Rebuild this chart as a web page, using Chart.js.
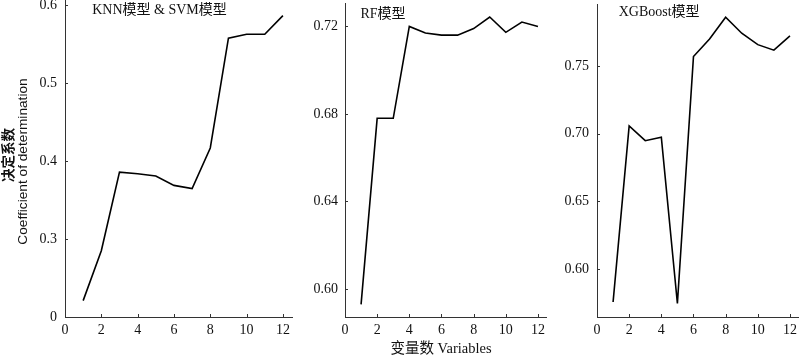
<!DOCTYPE html>
<html>
<head>
<meta charset="utf-8">
<script src="https://cdn.jsdelivr.net/npm/chart.js@4/dist/chart.umd.min.js"></script>
<style>
html,body{margin:0;padding:0;background:#fff;}
#wrap{position:relative;width:800px;height:358px;overflow:hidden;background:#fff;}
canvas{position:absolute;top:0;}
</style>
</head>
<body>
<div id="wrap">
<canvas id="c1" width="300" height="358" style="left:0px"></canvas>
<canvas id="c2" width="250" height="358" style="left:300px"></canvas>
<canvas id="c3" width="250" height="358" style="left:550px"></canvas>
</div>
<script>
// ---- data ----
const variables = [1,2,3,4,5,6,7,8,9,10,11,12];
const knnSvm = [0.221,0.285,0.386,0.384,0.381,0.369,0.365,0.417,0.558,0.563,0.563,0.587];
const rf     = [0.593,0.678,0.678,0.720,0.717,0.716,0.716,0.719,0.7243,0.7173,0.722,0.720];
const xgb    = [0.5757,0.7057,0.6948,0.6973,0.5746,0.7569,0.7699,0.7859,0.7741,0.7657,0.7616,0.7721];

const xTicks = [0,2,4,6,8,10,12];
const yTicks1 = [0.2,0.3,0.4,0.5,0.6];
const yLabels1 = ['0','0.3','0.4','0.5','0.6'];
const yTicks2 = [0.60,0.64,0.68,0.72];
const yLabels2 = ['0.60','0.64','0.68','0.72'];
const yTicks3 = [0.60,0.65,0.70,0.75];
const yLabels3 = ['0.60','0.65','0.70','0.75'];

const panelTitles = ['KNN模型 & SVM模型','RF模型','XGBoost模型'];
const yTitleCn = '决定系数';
const yTitleEn = 'Coefficient of determination';
const xTitle = '变量数 Variables';

const SERIF = '"Liberation Serif", "Noto Sans CJK SC", serif';

const innerTicks = {
  id: 'innerTicks',
  afterDraw(chart) {
    const ctx = chart.ctx;
    const xs = chart.scales.x, ys = chart.scales.y;
    ctx.save();
    ctx.strokeStyle = '#333';
    ctx.lineWidth = 1;
    ctx.beginPath();
    xs.ticks.forEach(t => {
      if (t.value === 0) return;
      const px = Math.round(xs.getPixelForValue(t.value)) + 0.5;
      ctx.moveTo(px, ys.bottom);
      ctx.lineTo(px, ys.bottom - 3);
    });
    ys.ticks.forEach(t => {
      const py = Math.round(ys.getPixelForValue(t.value)) + 0.5;
      ctx.moveTo(xs.left, py);
      ctx.lineTo(xs.left + 3, py);
    });
    ctx.stroke();
    ctx.restore();
  }
};

const textPlugin = {
  id: 'panelText',
  afterDraw(chart, args, opts) {
    const ctx = chart.ctx;
    const xs = chart.scales.x;
    ctx.save();
    ctx.fillStyle = '#111';
    ctx.font = '14px ' + SERIF;
    ctx.textAlign = 'left';
    ctx.textBaseline = 'middle';
    ctx.fillText(opts.title, xs.getPixelForValue(opts.titleX), opts.titleY);
    if (opts.yTitle) {
      ctx.save();
      ctx.translate(8, 155);
      ctx.rotate(-Math.PI/2);
      ctx.textAlign = 'center';
      ctx.font = 'bold 13.5px "Noto Sans CJK SC", sans-serif';
      ctx.fillText(yTitleCn, 0, 0);
      ctx.restore();
      ctx.save();
      ctx.translate(23, 161.5);
      ctx.rotate(-Math.PI/2);
      ctx.textAlign = 'center';
      ctx.font = '13.7px "Liberation Sans", sans-serif';
      ctx.fillText(yTitleEn, 0, 0);
      ctx.restore();
    }
    if (opts.xTitle) {
      ctx.textAlign = 'center';
      ctx.font = '14.5px ' + SERIF;
      ctx.fillText(xTitle, opts.xTitleX, 349);
    }
    ctx.restore();
  }
};

function makeChart(id, values, cfg) {
  const pts = variables.map((v, i) => ({x: v, y: values[i]}));
  return new Chart(document.getElementById(id), {
    type: 'line',
    data: { datasets: [{ data: pts, borderColor: '#000', borderWidth: 1.6, pointRadius: 0, tension: 0, fill: false, clip: false }] },
    plugins: [innerTicks, textPlugin],
    options: {
      responsive: false,
      animation: false,
      layout: { padding: { left: 0, right: cfg.padRight, top: cfg.padTop, bottom: 0 } },
      plugins: {
        legend: { display: false },
        tooltip: { enabled: false },
        panelText: { title: cfg.title, titleX: cfg.titleX, titleY: cfg.titleY, yTitle: cfg.yTitle, xTitle: cfg.xTitle, xTitleX: cfg.xTitleX }
      },
      scales: {
        x: {
          type: 'linear', min: 0, max: 12.5,
          grid: { display: false, drawTicks: false },
          border: { display: true, color: '#333', width: 1 },
          afterBuildTicks: s => { s.ticks = xTicks.map(v => ({value: v})); },
          afterFit: s => { s.height = 41; s.paddingLeft = 0; s.paddingRight = 0; },
          ticks: { autoSkip: false, maxRotation: 0, padding: 5, color: '#111', font: { family: SERIF, size: 14 }, callback: v => String(v) }
        },
        y: {
          type: 'linear', min: cfg.yMin, max: cfg.yMax,
          grid: { display: false, drawTicks: false },
          border: { display: true, color: '#333', width: 1 },
          afterBuildTicks: s => { s.ticks = cfg.yTicks.map(v => ({value: v})); },
          afterFit: s => { s.width = cfg.yWidth; s.paddingTop = 0; s.paddingBottom = 0; },
          ticks: { autoSkip: false, padding: cfg.labelPad, color: '#111', font: { family: SERIF, size: 14 },
            callback: (v) => cfg.yLabels[cfg.yTicks.indexOf(v)] }
        }
      }
    }
  });
}

makeChart('c1', knnSvm, { yMin: 0.2, yMax: 0.607, yTicks: yTicks1, yLabels: yLabels1, yWidth: 65, padRight: 8, padTop: 0, labelPad: 8,
  title: panelTitles[0], titleX: 1.5, titleY: 10, yTitle: true });
makeChart('c2', rf, { yMin: 0.5872, yMax: 0.7307, yTicks: yTicks2, yLabels: yLabels2, yWidth: 45, padRight: 4, padTop: 3, labelPad: 7,
  title: panelTitles[1], titleX: 0.96, titleY: 14, xTitle: true, xTitleX: 141 });
makeChart('c3', xgb, { yMin: 0.5646, yMax: 0.7957, yTicks: yTicks3, yLabels: yLabels3, yWidth: 47, padRight: 2, padTop: 4, labelPad: 8,
  title: panelTitles[2], titleX: 1.35, titleY: 12 });
</script>
</body>
</html>
